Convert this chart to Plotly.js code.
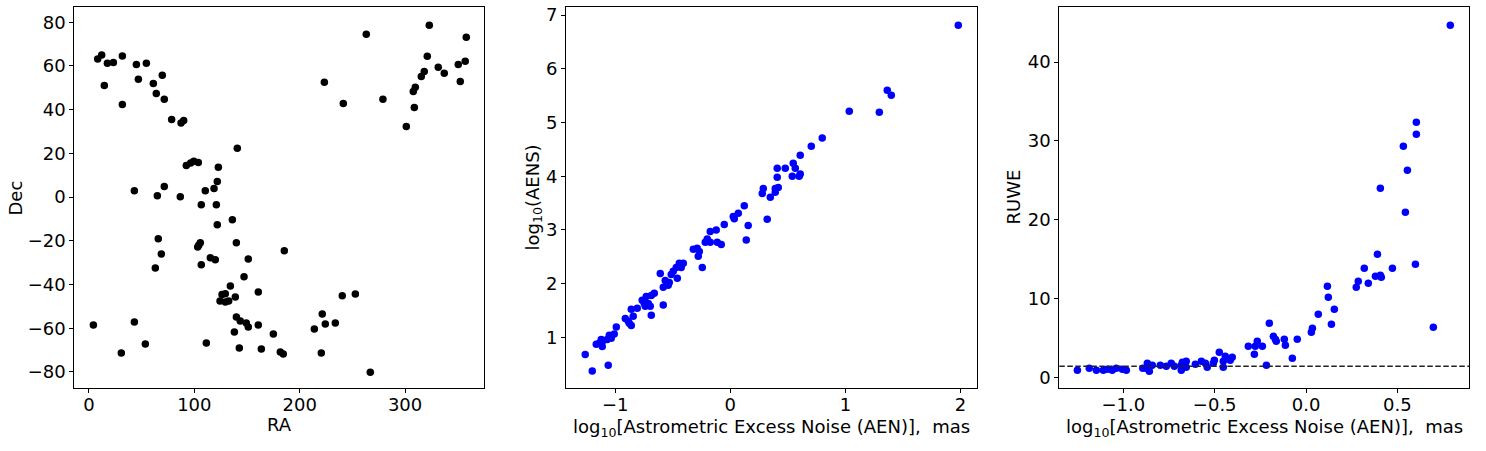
<!DOCTYPE html>
<html><head><meta charset="utf-8">
<script src="https://cdn.plot.ly/plotly-3.0.1.min.js"></script>
<style>html,body{margin:0;padding:0;background:#fff}#chart{width:1486px;height:451px}</style>
</head><body><div id="chart"></div>
<script>
// Panel 1: RA / Dec
const ra = [8.3,12.1,17.5,23.2,31.7,14.6,31.7,45,54.5,46.9,61.1,69.6,63.9,71.5,78.5,87.4,89.9,92.4,96.5,99.5,103.8,122.8,121.8,140.8,118.7,110.4,43.1,64.9,71.5,86.7,106.6,120.9,121.8,136.1,223.4,241.4,263.2,279,301.2,308.8,307.8,309.7,315.4,318.2,321.1,323,331.5,337.2,350.5,357.1,352.4,358.1,
  65.8,68.7,63,103.2,105.7,104.2,106.6,115.2,119.9,139.9,151.2,185.4,147.2,134.2,126.3,129.4,124.4,129.4,132.6,138.9,160.7,139.9,143.6,149.3,151.2,138,160.7,175,142.7,163.6,181.6,184.4,111.4,4.2,43.1,53.5,30.7,213.9,221.4,224.3,233.8,240.4,252.8,220.5,267];
const dec = [63.2,65.0,61.2,61.6,64.5,51.1,42.4,60.7,61.2,53.9,52,55.7,47.4,44.7,35.5,33.9,35,14.4,15.6,16.4,15.8,13.6,7.1,22.3,3.9,2.9,2.9,0.6,4.8,0.2,-3.5,-3.5,-12.7,-10.4,52.5,42.8,74.5,44.7,32.3,41,48.3,50.2,55.2,57.5,64.4,78.6,59.4,56.6,60.7,62.1,52.9,73.1,
  -19.1,-26.0,-32.4,-22.9,-20.9,-22.0,-31,-27.8,-28.7,-20.9,-28.3,-24.6,-36.5,-40.7,-44.6,-44.2,-47.5,-48,-47.5,-45.7,-43.4,-54.9,-56.7,-57.6,-59.4,-61.7,-58.5,-62.7,-69.1,-69.5,-70.9,-71.8,-66.8,-58.5,-57.2,-67.2,-71.4,-60.4,-53.5,-58.1,-57.6,-45.2,-44.3,-71.4,-80.1];

// Panel 2: log10(AEN) vs log10(AENS)
const aen2 = [1.981,1.034,1.295,1.364,1.399,0.799,0.704,0.608,0.547,0.565,0.408,0.478,0.408,0.539,0.599,0.608,0.287,0.278,0.391,0.417,0.391,0.348,0.122,0.321,0.026,0.070,0.035,0.156,-0.052,-0.122,-0.174,
  0.139,-0.217,-0.200,-0.174,-0.113,-0.078,-0.321,-0.287,-0.269,-0.278,-0.243,-0.443,-0.408,-0.469,-0.426,-0.495,-0.513,-0.608,-0.460,-0.565,-0.530,-0.539,-0.582,-0.582,-0.660,-0.686,-0.730,-0.765,-0.747,-0.712,-0.695,-0.738,-0.808,-0.686,-0.860,-0.843,-0.912,-0.886,-0.877,-0.860,-0.990,-1.008,-1.051,-1.034,-1.069,-1.121,-1.103,-1.164,-1.138,-1.112,-1.260,-1.060,-1.199];
const aens = [6.81,5.21,5.19,5.60,5.51,4.71,4.56,4.39,4.24,4.15,4.15,4.15,3.98,4.00,4.00,4.04,3.77,3.68,3.77,3.79,3.70,3.61,3.45,3.20,3.25,3.31,3.21,3.08,3.10,3.00,2.97,
  2.81,2.77,2.83,2.77,2.77,2.73,2.64,2.66,2.60,2.51,2.30,2.38,2.38,2.30,2.30,2.23,2.17,2.19,2.10,2.06,2.02,1.97,1.93,1.60,1.82,1.78,1.76,1.69,1.63,1.63,1.58,1.58,1.54,1.41,1.52,1.39,1.35,1.30,1.26,1.22,1.19,1.06,1.04,0.98,0.96,0.96,0.94,0.87,0.89,0.83,0.68,0.48,0.37];

// Panel 3: log10(AEN) vs RUWE
const aen3 = [0.790,0.604,0.604,0.533,0.555,0.407,0.544,0.599,0.697,0.391,0.319,0.473,0.380,0.407,0.412,0.286,0.341,0.275,0.117,0.122,0.155,0.067,0.139,0.035,0.029,-0.048,-0.075,-0.201,-0.179,-0.168,-0.163,-0.119,-0.113,-0.217,-0.267,-0.316,-0.239,-0.278,-0.283,-0.475,-0.442,-0.404,-0.415,-0.453,-0.453,-0.502,-0.508,-0.573,-0.551,-0.606,-0.541,-0.656,-0.677,-0.683,-0.656,-0.683,-0.738,-0.721,-0.798,-0.765,-0.869,-0.875,-0.858,-0.842,-0.894,-0.984,-1.006,-1.039,-1.061,-1.088,-1.110,-1.148,-1.187,-1.252];
const ruwe = [44.67,32.36,30.84,29.31,26.27,23.98,20.94,14.34,6.35,15.61,13.83,13.83,12.82,12.94,12.69,12.18,11.93,11.42,11.55,10.15,8.63,7.99,6.73,6.22,5.71,4.82,2.41,6.85,5.20,4.82,4.57,4.82,4.06,1.52,4.57,3.93,3.93,3.93,2.92,3.17,2.66,2.54,2.16,2.03,1.27,2.16,1.78,2.03,1.78,1.65,1.27,2.03,1.90,1.52,1.27,0.89,1.78,1.40,1.52,1.40,1.78,1.14,0.76,1.52,1.14,0.89,1.02,1.14,0.89,1.02,0.89,0.89,1.14,0.89];
const ruweThreshold = 1.4;

const xTitles = ['RA', 'log<sub>10</sub>[Astrometric Excess Noise (AEN)],&nbsp;&nbsp;mas', 'log<sub>10</sub>[Astrometric Excess Noise (AEN)],&nbsp;&nbsp;mas'];
const yTitles = ['Dec', 'log<sub>10</sub>(AENS)', 'RUWE'];

const W = 1486, H = 451;
const yDom = [1 - 388.3/H, 1 - 6.7/H];
const xDoms = [[74.3/W, 484.3/W], [566/W, 976.7/W], [1059.3/W, 1469.3/W]];
const xTitleY = [424, 428, 428];
const yTitleX = [15, 533, 1013];
const font = {family: 'DejaVu Sans, sans-serif', size: 18, color: '#000'};
const mk = c => ({size: 7.5, color: c, line: {width: 0}});

function ax(extra) {
  return Object.assign({
    showline: true, mirror: true, linecolor: '#000', linewidth: 1,
    ticks: 'outside', ticklen: 4, tickwidth: 1, tickcolor: '#000',
    showgrid: false, zeroline: false, automargin: false,
    tickfont: font
  }, extra);
}

const traces = [
  {x: ra, y: dec, type: 'scatter', mode: 'markers', marker: mk('#000'), xaxis: 'x', yaxis: 'y', hoverinfo: 'skip'},
  {x: aen2, y: aens, type: 'scatter', mode: 'markers', marker: mk('#0000ff'), xaxis: 'x2', yaxis: 'y2', hoverinfo: 'skip'},
  {x: aen3, y: ruwe, type: 'scatter', mode: 'markers', marker: mk('#0000ff'), xaxis: 'x3', yaxis: 'y3', hoverinfo: 'skip'}
];

const annotations = [];
for (let i = 0; i < 3; i++) {
  annotations.push({xref: 'paper', yref: 'paper', x: (xDoms[i][0] + xDoms[i][1]) / 2, y: 1 - xTitleY[i]/H,
    xanchor: 'center', yanchor: 'middle', text: xTitles[i], showarrow: false, font: font});
  annotations.push({xref: 'paper', yref: 'paper', x: yTitleX[i]/W, y: (yDom[0] + yDom[1]) / 2,
    xanchor: 'center', yanchor: 'middle', textangle: -90, text: yTitles[i], showarrow: false, font: font});
}

const xs = {ticklabelstandoff: -4};
const layout = {
  width: W, height: H, showlegend: false,
  paper_bgcolor: '#fff', plot_bgcolor: '#fff',
  margin: {l: 0, r: 0, t: 0, b: 0},
  font: font,
  xaxis: ax(Object.assign({domain: xDoms[0], range: [-13.9, 375.2], tickvals: [0,100,200,300], anchor: 'y'}, xs)),
  yaxis: ax({domain: yDom, range: [-87.5, 87.1], tickvals: [-80,-60,-40,-20,0,20,40,60,80], anchor: 'x'}),
  xaxis2: ax(Object.assign({domain: xDoms[1], range: [-1.427, 2.141], tickvals: [-1,0,1,2], anchor: 'y2'}, xs)),
  yaxis2: ax({domain: yDom, range: [0.05, 7.157], tickvals: [1,2,3,4,5,6,7], anchor: 'x2'}),
  xaxis3: ax(Object.assign({domain: xDoms[2], range: [-1.351, 0.894], tickvals: [-1,-0.5,0,0.5], ticktext: ['−1.0','−0.5','0.0','0.5'], anchor: 'y3'}, xs)),
  yaxis3: ax({domain: yDom, range: [-1.40, 47.03], tickvals: [0,10,20,30,40], anchor: 'x3'}),
  annotations: annotations,
  shapes: [{type: 'line', xref: 'x3 domain', yref: 'y3', x0: 0, x1: 1, y0: ruweThreshold, y1: ruweThreshold,
    line: {color: '#222', width: 1.5, dash: '5.5px,2.5px'}}]
};

Plotly.newPlot('chart', traces, layout, {staticPlot: true, displayModeBar: false});
</script></body></html>
